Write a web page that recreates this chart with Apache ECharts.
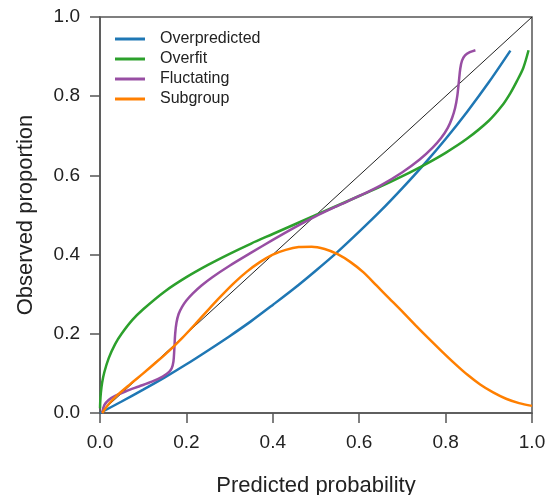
<!DOCTYPE html>
<html>
<head>
<meta charset="utf-8">
<script src="https://cdn.jsdelivr.net/npm/echarts@6/dist/echarts.min.js"></script>
<style>
  html, body { margin: 0; padding: 0; background: #fff; }
  #main { width: 551px; height: 495px; }
</style>
</head>
<body>
<div id="main"></div>
<script>
// 曲线数据
const seriesNames = ['Overpredicted', 'Overfit', 'Fluctating', 'Subgroup']

const overX = [0, 0.05, 0.1, 0.15, 0.2, 0.25, 0.3, 0.35, 0.4, 0.45, 0.5, 0.55, 0.6, 0.65, 0.7, 0.75, 0.8, 0.85, 0.9, 0.95]
const overY = [0, 0.029, 0.059, 0.09, 0.123, 0.158, 0.194, 0.232, 0.273, 0.315, 0.36, 0.407, 0.458, 0.511, 0.568, 0.628, 0.692, 0.761, 0.835, 0.915]

const fitX = [0.0001, 0.0005, 0.002, 0.005, 0.01, 0.02, 0.035, 0.05, 0.075, 0.1, 0.15, 0.2, 0.25, 0.3, 0.35, 0.4, 0.45, 0.5, 0.55, 0.6, 0.65, 0.7, 0.75, 0.8, 0.85, 0.9, 0.93, 0.95, 0.965, 0.98, 0.992]
const fitY = [0.012, 0.027, 0.051, 0.077, 0.103, 0.138, 0.174, 0.2, 0.235, 0.262, 0.307, 0.343, 0.374, 0.402, 0.428, 0.452, 0.476, 0.5, 0.524, 0.548, 0.572, 0.598, 0.626, 0.657, 0.693, 0.738, 0.775, 0.808, 0.838, 0.872, 0.916]

const flucX = [0.005, 0.01, 0.02, 0.035, 0.06, 0.09, 0.12, 0.145, 0.16, 0.166, 0.17, 0.172, 0.174, 0.177, 0.182, 0.19, 0.2, 0.215, 0.235, 0.26, 0.3, 0.35, 0.4, 0.45, 0.5, 0.55, 0.6, 0.65, 0.7, 0.74, 0.77, 0.79, 0.805, 0.815, 0.822, 0.827, 0.831, 0.834, 0.838, 0.845, 0.856, 0.869]
const flucY = [0, 0.02, 0.033, 0.043, 0.055, 0.067, 0.079, 0.092, 0.104, 0.113, 0.13, 0.16, 0.2, 0.228, 0.25, 0.268, 0.284, 0.302, 0.322, 0.343, 0.372, 0.405, 0.437, 0.468, 0.497, 0.523, 0.548, 0.575, 0.608, 0.64, 0.67, 0.695, 0.72, 0.745, 0.77, 0.8, 0.84, 0.87, 0.89, 0.903, 0.911, 0.916]

const subX = [0.005, 0.02, 0.04, 0.07, 0.1, 0.13, 0.16, 0.19, 0.22, 0.25, 0.28, 0.31, 0.34, 0.37, 0.4, 0.43, 0.46, 0.49, 0.52, 0.55, 0.58, 0.61, 0.64, 0.67, 0.7, 0.73, 0.76, 0.79, 0.82, 0.85, 0.88, 0.91, 0.94, 0.97, 1.0]
const subY = [0, 0.022, 0.045, 0.073, 0.1, 0.128, 0.157, 0.189, 0.224, 0.26, 0.295, 0.328, 0.357, 0.381, 0.4, 0.412, 0.419, 0.42, 0.414, 0.401, 0.381, 0.355, 0.322, 0.289, 0.256, 0.222, 0.189, 0.157, 0.126, 0.097, 0.072, 0.052, 0.036, 0.025, 0.018]

const diagX = [0, 1]
const diagY = [0, 1]

const colors = ['#1f77b4', '#2ca02c', '#984ea3', '#ff7f00']
const font = 'Liberation Sans, Arial, sans-serif'

function pairs(xs, ys) {
  return xs.map((x, i) => [x, ys[i]])
}

function axisOpt(name, gap, rotate) {
  return {
    type: 'value',
    min: 0,
    max: 1,
    interval: 0.2,
    name: name,
    nameLocation: 'middle',
    nameGap: gap,
    nameRotate: rotate,
    nameTextStyle: { fontFamily: font, fontSize: 22, color: '#222' },
    axisLine: { show: true, lineStyle: { color: '#555', width: 1.5 } },
    axisTick: { show: true, inside: false, length: 10, lineStyle: { color: '#555', width: 1.5 } },
    axisLabel: {
      fontFamily: font,
      fontSize: 19,
      color: '#222',
      margin: 20,
      formatter: (v) => v.toFixed(1),
    },
    splitLine: { show: false },
  }
}

let myChart = echarts.init(document.getElementById('main'))
let lines = [
  [overX, overY],
  [fitX, fitY],
  [flucX, flucY],
  [subX, subY],
]
let option = {
  animation: false,
  grid: {
    left: 100,
    right: 19,
    top: 17,
    bottom: 82,
    outerBoundsMode: 'none',
    containLabel: false,
    show: true,
    borderColor: '#555',
    borderWidth: 1.5,
  },
  legend: {
    orient: 'vertical',
    left: 110,
    top: 26,
    itemWidth: 30,
    itemHeight: 3,
    itemGap: 4,
    icon: 'rect',
    data: seriesNames,
    textStyle: {
      fontFamily: font,
      fontSize: 16,
      lineHeight: 16,
      color: '#222',
      padding: [0, 0, 0, 10],
    },
  },
  xAxis: axisOpt('Predicted probability', 62, 0),
  yAxis: axisOpt('Observed proportion', 63, 90),
  series: [
    {
      type: 'line',
      data: pairs(diagX, diagY),
      symbol: 'none',
      silent: true,
      lineStyle: { color: '#222', width: 1 },
      z: 1,
    },
  ].concat(
    lines.map((l, i) => ({
      name: seriesNames[i],
      type: 'line',
      data: pairs(l[0], l[1]),
      symbol: 'none',
      smooth: 0.3,
      color: colors[i],
      lineStyle: { color: colors[i], width: 2.5 },
      z: 2 + i,
    }))
  ),
}
myChart.setOption(option)
</script>
</body>
</html>
